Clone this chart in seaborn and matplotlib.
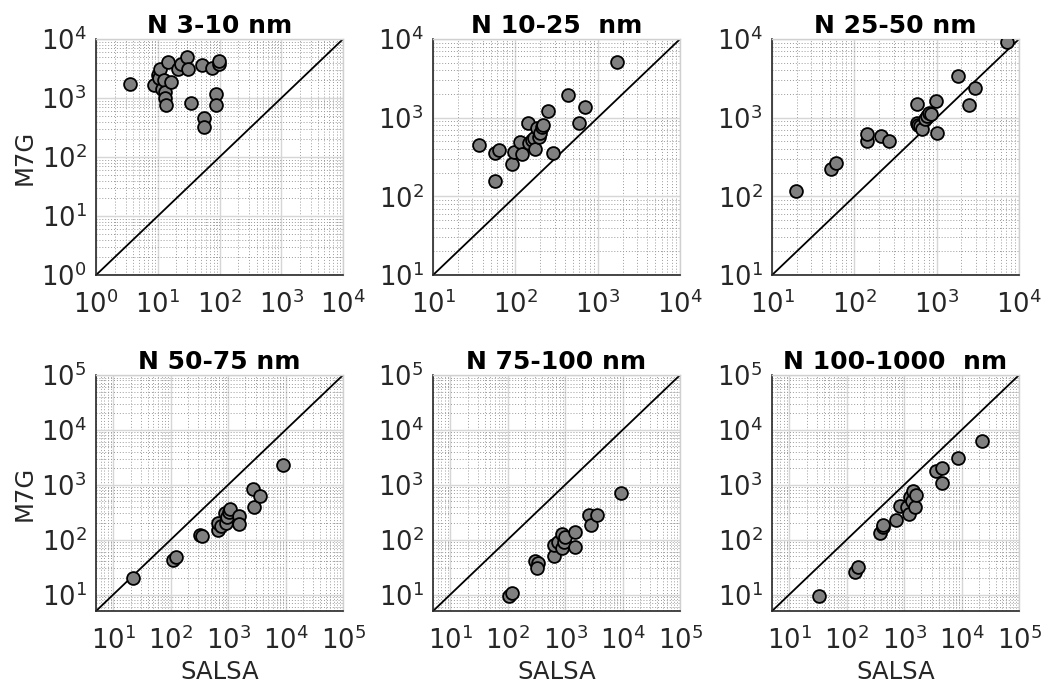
import numpy as np
import pandas as pd
import matplotlib
matplotlib.use("Agg")
import matplotlib.pyplot as plt
import matplotlib.ticker as mticker
import seaborn as sns

# Number concentrations per size bin: SALSA (x) vs M7G (y)
titles = ["N 3-10 nm", "N 10-25  nm", "N 25-50 nm",
          "N 50-75 nm", "N 75-100 nm", "N 100-1000  nm"]

salsa_3_10 = [3.5, 8.8, 10, 10.5, 11, 11.5, 12.5, 13, 13, 13.5, 14.5, 16.5,
              21, 24, 30, 31, 35, 52, 57, 56, 76, 87, 87, 97, 99]
m7g_3_10 = [1700, 1650, 2450, 2150, 3150, 1450, 2000, 1250, 1000, 760, 4150, 1850,
            3050, 3850, 5000, 3050, 830, 3650, 450, 325, 3250, 1170, 770, 3800, 4250]

salsa_10_25 = [36, 57, 63, 57, 90, 95, 114, 120, 142, 148, 160, 169, 174, 182,
               191, 200, 213, 219, 250, 284, 437, 590, 697, 1720]
m7g_10_25 = [455, 355, 385, 158, 255, 365, 485, 350, 860, 470, 520, 545, 405, 730,
             570, 630, 765, 805, 1210, 358, 1920, 860, 1350, 5130]

salsa_25_50 = [19.6, 52, 59, 141, 141, 209, 266, 573, 584, 600, 620, 670, 724,
               757, 795, 850, 977, 1000, 1800, 2480, 2900, 7110]
m7g_25_50 = [117, 220, 267, 508, 617, 583, 505, 1475, 860, 805, 780, 710, 950,
             1050, 1160, 1130, 1623, 630, 3380, 1430, 2400, 9130]

salsa_50_75 = [22, 111, 124, 324, 355, 658, 674, 760, 881, 918, 967, 1048, 1076,
               1549, 1549, 2670, 2850, 3590, 9130]
m7g_50_75 = [19.6, 43, 48, 120, 116, 148, 204, 180, 304, 204, 257, 317, 365,
             275, 190, 843, 391, 637, 2300]

salsa_75_100 = [107, 117, 299, 341, 328, 640, 647, 760, 870, 870, 968, 994,
                1485, 1485, 2630, 2820, 3540, 9270]
m7g_75_100 = [9.5, 10.5, 41, 37.7, 30.6, 50, 79, 90, 69, 128, 90, 111,
              137, 73, 284, 182, 276, 702]

salsa_100_1000 = [32.9, 139, 159, 380, 424, 434, 713, 847, 1107, 1214, 1261, 1350,
                  1540, 1446, 1590, 3540, 4510, 4510, 8570, 22400]
m7g_100_1000 = [9.5, 25.8, 31.9, 132, 169, 182, 231, 402, 391, 297, 593, 516,
                391, 762, 664, 1811, 2027, 1065, 3030, 6160]

series = [(salsa_3_10, m7g_3_10), (salsa_10_25, m7g_10_25), (salsa_25_50, m7g_25_50),
          (salsa_50_75, m7g_50_75), (salsa_75_100, m7g_75_100),
          (salsa_100_1000, m7g_100_1000)]

limits = [(1, 1e4), (10, 1e4), (10, 1e4), (5, 1e5), (5, 1e5), (5, 1e5)]
major_ticks = [[1e0, 1e1, 1e2, 1e3, 1e4],
               [1e1, 1e2, 1e3, 1e4],
               [1e1, 1e2, 1e3, 1e4],
               [1e1, 1e2, 1e3, 1e4, 1e5],
               [1e1, 1e2, 1e3, 1e4, 1e5],
               [1e1, 1e2, 1e3, 1e4, 1e5]]

sns.set_style("white")
plt.rcParams["font.family"] = ["DejaVu Sans"]

fig = plt.figure(figsize=(10.44, 6.85), dpi=100)

lefts = [0.092, 0.4148, 0.7395]
bottoms = [0.5985, 0.108]
w, h = 0.2366, 0.3445

tick_color = "#262626"
for i, (title, (xs, ys), lim, ticks) in enumerate(zip(titles, series, limits, major_ticks)):
    r, c = divmod(i, 3)
    ax = fig.add_axes([lefts[c], bottoms[r], w, h])
    df = pd.DataFrame({"SALSA": xs, "M7G": ys})
    ax.set_xscale("log")
    ax.set_yscale("log")

    ax.plot(lim, lim, color="black", lw=1.3, zorder=2)
    sns.scatterplot(data=df, x="SALSA", y="M7G", ax=ax, s=85, color="#808080",
                    edgecolor="black", linewidth=1.3, zorder=3, legend=False)

    ax.set_xlim(lim)
    ax.set_ylim(lim)
    ax.set_xticks(ticks)
    ax.set_yticks(ticks)
    ax.xaxis.set_minor_locator(mticker.LogLocator(base=10, subs=np.arange(2, 10), numticks=20))
    ax.yaxis.set_minor_locator(mticker.LogLocator(base=10, subs=np.arange(2, 10), numticks=20))
    ax.xaxis.set_minor_formatter(mticker.NullFormatter())
    ax.yaxis.set_minor_formatter(mticker.NullFormatter())

    ax.grid(True, which="major", color="#d6d6d6", lw=1.0, ls="-", zorder=0)
    ax.grid(True, which="minor", color="#9a9a9a", lw=0.7, ls=(0, (1, 2)), zorder=0)
    ax.set_axisbelow(True)

    ax.tick_params(which="both", direction="in", top=False, right=False,
                   colors="black", labelcolor=tick_color, labelsize=18.5)
    ax.tick_params(axis="x", which="major", pad=11)
    ax.tick_params(axis="y", which="major", pad=7)
    ax.tick_params(which="major", length=4, width=1)
    ax.tick_params(which="minor", length=2.5, width=0.8)

    for side in ("left", "bottom"):
        ax.spines[side].set_color("#262626")
        ax.spines[side].set_linewidth(1.2)
    for side in ("top", "right"):
        ax.spines[side].set_visible(True)
        ax.spines[side].set_color("#d0d0d0")
        ax.spines[side].set_linewidth(1.0)

    ax.set_title(title, fontsize=18, fontweight="bold", color="black", pad=4)
    ax.set_xlabel("SALSA" if r == 1 else "", fontsize=17.5, color=tick_color, labelpad=4)
    ax.set_ylabel("M7G" if c == 0 else "", fontsize=17.5, color=tick_color, labelpad=3)

fig.savefig("out.png", dpi=100)
